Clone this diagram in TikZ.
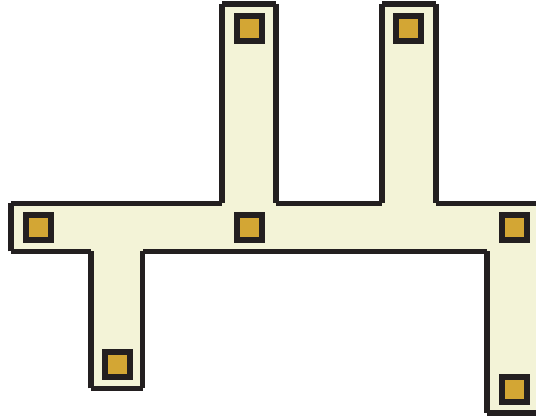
\documentclass[tikz,border=0pt]{standalone}
\usepackage{tikz}
\definecolor{boardDark}{RGB}{35, 31, 32}
\definecolor{boardCream}{RGB}{243, 243, 215}
\definecolor{boardGold}{RGB}{211, 166, 52}

\begin{document}
\begin{tikzpicture}[x=1pt, y=-1pt,
    pad/.style={draw=boardDark, line width=6pt, fill=boardGold, minimum size=25pt, inner sep=0pt},
    edge/.style={draw=boardDark, line width=5.5pt, line cap=butt}
  ]
  \useasboundingbox (0,0) rectangle (536,419);
  % cream body
  \fill[boardCream] (11,203.5) -- (222,203.5) -- (222,4) -- (276,4) -- (276,203.5)
    -- (382,203.5) -- (382,4) -- (436,4) -- (436,203.5) -- (536,203.5)
    -- (536,413) -- (487,413) -- (487,251.5) -- (142.5,251.5) -- (142.5,388.5)
    -- (91,388.5) -- (91,251.5) -- (11,251.5) -- cycle;
  % outline, one stroke per side
  \path[edge] (11,203.5) -- (222,203.5)
    (222,203.5) -- (222,4) (222,4) -- (276,4) (276,4) -- (276,203.5)
    (276,203.5) -- (382,203.5)
    (382,203.5) -- (382,4) (382,4) -- (436,4) (436,4) -- (436,203.5)
    (436,203.5) -- (536,203.5)
    (536,413) -- (487,413) (487,413) -- (487,251.5)
    (487,251.5) -- (142.5,251.5)
    (142.5,251.5) -- (142.5,388.5) (142.5,388.5) -- (91,388.5) (91,388.5) -- (91,251.5)
    (91,251.5) -- (11,251.5) (11,251.5) -- (11,203.5);
  % pads
  \node[pad] (padL) at (38.5,227.5) {};
  \node[pad] (padMid) at (249.5,227.5) {};
  \node[pad] (padR) at (514,227.5) {};
  \node[pad] (padTopA) at (249.5,28.5) {};
  \node[pad] (padTopB) at (408.5,28.5) {};
  \node[pad] (padDown) at (117,364.5) {};
  \node[pad] (padCorner) at (514,389.5) {};
\end{tikzpicture}
\end{document}
